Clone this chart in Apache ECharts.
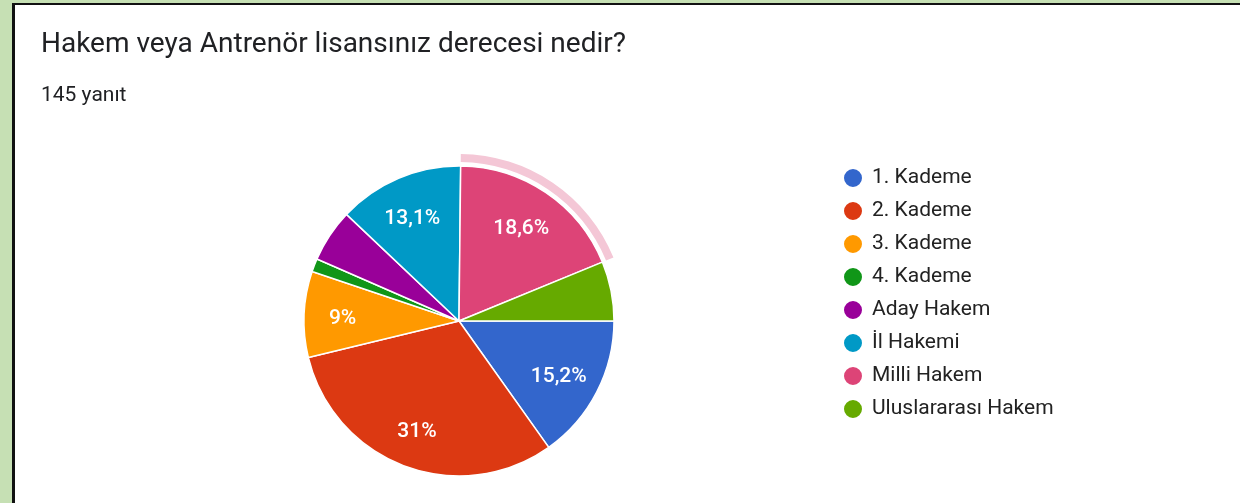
<!DOCTYPE html>
<html>
<head>
<meta charset="utf-8">
<script src="https://cdn.jsdelivr.net/npm/echarts@6/dist/echarts.min.js"></script>
<style>
  html, body { margin: 0; padding: 0; }
  body { width: 1240px; height: 503px; background: #c6e0b4; position: relative; overflow: hidden; }
  #frame { position: absolute; left: 12px; top: 3px; right: 0; bottom: 0; background: #fff;
           border-left: 3px solid #111; border-top: 2px solid #111; }
  #chart { position: absolute; left: 0; top: 0; width: 1240px; height: 503px; }
</style>
</head>
<body>
<div id="frame"></div>
<div id="chart"></div>
<script>
// yanıt sayıları (145 yanıt)
const categories = ["1. Kademe", "2. Kademe", "3. Kademe", "4. Kademe", "Aday Hakem", "İl Hakemi", "Milli Hakem", "Uluslararası Hakem"];
const counts = [22, 45, 13, 2, 8, 19, 27, 9];
const colors = ["#3366cc", "#dc3912", "#ff9900", "#109618", "#990099", "#0099c6", "#dd4477", "#66aa00"];
const highlighted = "Milli Hakem";

const total = counts.reduce((a, b) => a + b, 0);
const data = categories.map((name, i) => ({ name: name, value: counts[i] }));

//yüzde etiketi: 15,2% / 31%
const fmtPct = (v) => {
  const p = Math.round(v / total * 1000) / 10;
  if (p < 8) return "";
  return String(p).replace(".", ",") + "%";
};

const chart = echarts.init(document.getElementById("chart"));
const option = {
  color: colors,
  animation: false,
  title: [
    { text: "Hakem veya Antrenör lisansınız derecesi nedir?", left: 36, top: 26,
      textStyle: { fontFamily: "Roboto", fontSize: 28, fontWeight: "normal", color: "#202124" } },
    { text: "145 yanıt", left: 36, top: 80,
      textStyle: { fontFamily: "Roboto", fontSize: 21, fontWeight: "normal", color: "#202124" } }
  ],
  legend: {
    orient: "vertical", left: 837, top: 162,
    icon: "circle", itemWidth: 20, itemHeight: 20, itemGap: 11,
    data: categories,
    textStyle: { fontFamily: "Roboto", fontSize: 21, color: "#222", padding: [0, 0, 0, 4] }
  },
  series: [
    {
      type: "pie", center: [459, 321], radius: [0, 155], startAngle: 0, clockwise: true,
      data: data, label: { show: false }, labelLine: { show: false },
      itemStyle: { borderColor: "#fff", borderWidth: 1.5 }, silent: true
    },
    {
      // etiketler için saydam katman
      type: "pie", center: [459, 321], radius: [68, 155], startAngle: 0, clockwise: true,
      data: data, silent: true, legendHoverLink: false,
      itemStyle: { color: "rgba(0,0,0,0)" },
      label: { show: true, position: "inside", formatter: (p) => fmtPct(p.value),
               fontFamily: "Roboto", fontSize: 21, fontWeight: 500, color: "#fff", offset: [-2, 3] },
      labelLine: { show: false }
    },
    {
      // seçili dilim halkası
      type: "pie", center: [459, 321], radius: [159, 167], startAngle: 0, clockwise: true,
      data: data, silent: true, legendHoverLink: false,
      itemStyle: { color: (p) => p.name === highlighted ? "#f4c7d6" : "rgba(0,0,0,0)" },
      label: { show: false }, labelLine: { show: false }
    }
  ]
};
option && chart.setOption(option);
</script>
</body>
</html>
